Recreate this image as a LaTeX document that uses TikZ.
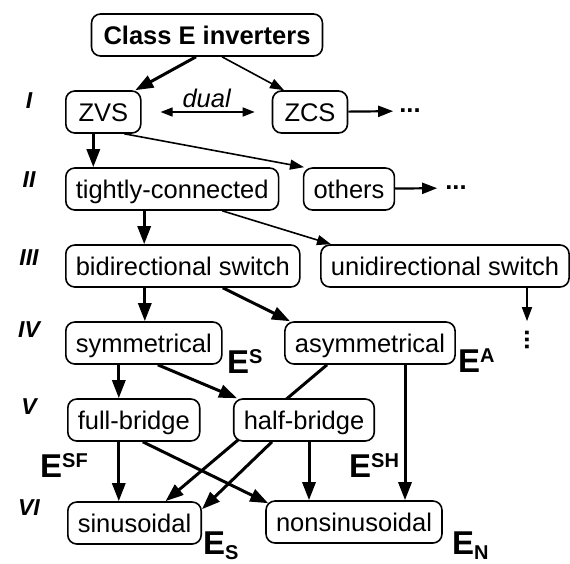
\documentclass[tikz,border=0pt]{standalone}
\usepackage{fontspec}
\setmainfont{Liberation Sans}
\usetikzlibrary{arrows.meta,backgrounds}
\newcommand{\Esup}[1]{E\raisebox{10pt}{\fontsize{20}{20}\selectfont #1}}
\newcommand{\Esub}[1]{E\raisebox{-5pt}{\fontsize{20}{20}\selectfont #1}}
\begin{document}
\begin{tikzpicture}[x=1pt,y=-1pt,
	box/.style={draw,line width=1.6pt,rounded corners=9pt,fill=white,minimum height=42pt,inner xsep=10pt,inner ysep=0pt,text height=18pt,text depth=0pt,font=\fontsize{25.5}{28}\selectfont},
	lvl/.style={font=\fontsize{23}{26}\selectfont\bfseries\itshape},
	elab/.style={font=\fontsize{33}{36}\selectfont\bfseries,inner sep=0pt},
	dots/.style={font=\fontsize{25.5}{28}\selectfont\bfseries,inner sep=0pt},
	thk/.style={line width=3pt,-{Triangle[length=18pt,width=13pt]}},
	mid/.style={line width=2.2pt,-{Triangle[length=15pt,width=11pt]}},
	thn/.style={line width=1.6pt,-{Triangle[length=14pt,width=10pt]}}]
	\useasboundingbox (0,0) rectangle (570,563);
	% levels
	\node[lvl] (l1) at (29,101) {I};
	\node[lvl] (l2) at (29,180) {II};
	\node[lvl] (l3) at (29,258) {III};
	\node[lvl] (l4) at (29,330) {IV};
	\node[lvl] (l5) at (29,407) {V};
	\node[lvl] (l6) at (29,508) {VI};
	% boxes
	\node[box,inner xsep=12pt,font=\fontsize{25.5}{28}\selectfont\bfseries] (cls) at (207,35) {Class E inverters};
	\node[box,anchor=west,minimum width=75pt] (zvs) at (65,112) {ZVS};
	\node[box,minimum width=75pt] (zcs) at (310,112) {ZCS};
	\node[box,anchor=west] (tight) at (65,189) {tightly-connected};
	\node[box] (oth) at (349,189) {others};
	\node[box,anchor=west] (bidir) at (65,266) {bidirectional switch};
	\node[box] (unidir) at (445,266) {unidirectional switch};
	\node[box,anchor=west] (sym) at (65,343) {symmetrical};
	\node[box] (asym) at (370,343) {asymmetrical};
	\node[box,anchor=west] (full) at (67,420) {full-bridge};
	\node[box] (half) at (304,420) {half-bridge};
	\node[box,anchor=west] (sin) at (67,523) {sinusoidal};
	\node[box] (nonsin) at (354,522) {nonsinusoidal};
	% more
	\node[dots] (zcsmore) at (410,111) {...};
	\node[dots] (othmore) at (456,188) {...};
	\node[dots,rotate=90] (unimore) at (527,340) {...};
	% class labels
	\node[elab,anchor=base west] (es) at (227,373) {\Esup{S}};
	\node[elab,anchor=base west] (ea) at (458,372) {\Esup{A}};
	\node[elab,anchor=base west] (esf) at (40,477) {\Esup{SF}};
	\node[elab,anchor=base west] (esh) at (349,477) {\Esup{SH}};
	\node[elab,anchor=base west] (ess) at (203,554) {\Esub{S}};
	\node[elab,anchor=base west] (en) at (452,554) {\Esub{N}};
	% arrows
	\draw[thk] ([xshift=-11pt]cls.south) -- ([xshift=32pt]zvs.north);
	\draw[thn] ([xshift=15pt]cls.south) -- ([xshift=-26pt]zcs.north);
	\draw[line width=1.6pt,{Triangle[length=12pt,width=9pt]}-{Triangle[length=12pt,width=9pt]},shorten <=19pt,shorten >=17pt] (zvs) -- node[above,inner sep=3pt,font=\fontsize{25.5}{28}\selectfont\itshape] (dual) {dual} (zcs);
	\draw[mid,shorten >=6pt] (zcs) -- (zcsmore);
	\draw[thk] ([xshift=-10pt]zvs.south) -- ([xshift=-10pt]zvs.south |- tight.north);
	\draw[thn] ([xshift=21pt]zvs.south) -- ([xshift=-45pt]oth.north);
	\draw[mid,shorten >=8pt] (oth) -- (othmore);
	\draw[thk] ([xshift=-28pt]tight.south) -- ([xshift=-28pt]tight.south |- bidir.north);
	\draw[thn] ([xshift=50pt]tight.south) -- ([xshift=-114pt]unidir.north);
	\draw[thk] ([xshift=-38pt]bidir.south) -- ([xshift=-38pt]bidir.south |- sym.north);
	\draw[thk] ([xshift=40pt]bidir.south) -- ([xshift=-80pt]asym.north);
	\draw[thn,shorten >=8pt] (unidir.south -| unimore) -- (unimore);
	\draw[thk] ([xshift=-25pt]sym.south) -- ([xshift=-25pt]sym.south |- full.north);
	\draw[thk] ([xshift=14pt]sym.south) -- ([xshift=-67pt]half.north);
	\begin{pgfonlayer}{background}
		\draw[thk] ([xshift=-43pt]asym.south) -- ([xshift=31pt]sin.north);
	\end{pgfonlayer}
	\draw[thk] ([xshift=35pt]asym.south) -- ([xshift=35pt]asym.south |- nonsin.north);
	\draw[thk] ([xshift=-15pt]full.south) -- ([xshift=-15pt]full.south |- sin.north);
	\draw[thk] ([xshift=9pt]full.south) -- ([shift={(3pt,-3pt)}]nonsin.north west);
	\draw[thk] ([xshift=-32pt]half.south) -- ([yshift=-8pt]sin.north east);
	\draw[thk] ([xshift=5pt]half.south) -- ([xshift=5pt]half.south |- nonsin.north);
\end{tikzpicture}
\end{document}
